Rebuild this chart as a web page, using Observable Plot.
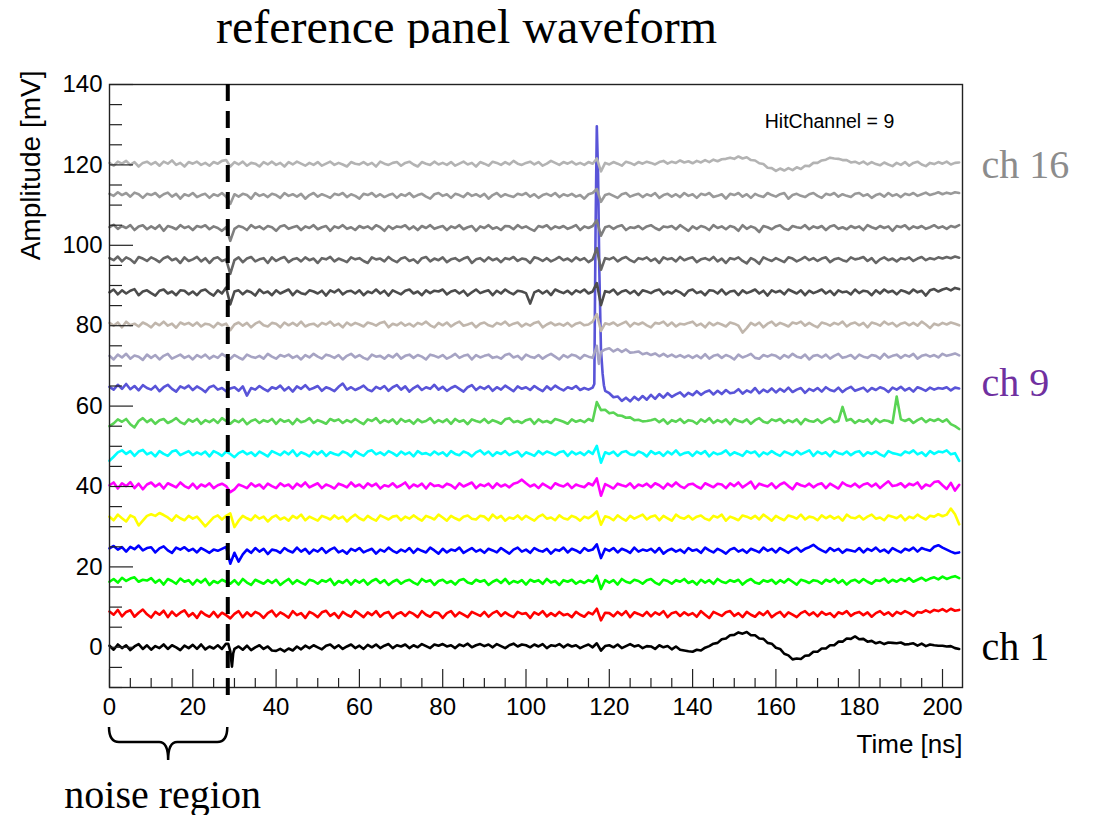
<!DOCTYPE html>
<html><head><meta charset="utf-8">
<script src="https://cdn.jsdelivr.net/npm/d3@7"></script>
<script src="https://cdn.jsdelivr.net/npm/@observablehq/plot@0.6"></script>
<style>
body{margin:0;background:#fff;width:1097px;height:815px;overflow:hidden;position:relative;}
#title{position:absolute;top:0;left:0;font-family:"Liberation Serif",serif;font-size:48px;line-height:54px;width:933px;text-align:center;white-space:nowrap;color:#000;}
#chart{position:absolute;top:48px;left:0;}
#chart svg{display:block;}
</style></head><body>
<div id="title">reference panel waveform</div>
<div id="chart"></div>
<script>
// sample times (ns), 1 ns apart
const times = d3.range(0, 205, 1);
const channels = d3.range(1, 17);
const baselines = [0, 8, 16, 24, 32, 40, 48, 56, 64, 72, 80, 88, 96, 104, 112, 120];
const colors = ["#000000", "#ff0000", "#00ff00", "#0000ff", "#ffff00", "#ff00ff", "#00ffff", "#59d454",
                "#5954d8", "#a6a3c3", "#c0b6ac", "#4c4c4c", "#666666", "#7f7f7f", "#999999", "#b3b3b3"];
const xTicks = [0, 20, 40, 60, 80, 100, 120, 140, 160, 180, 200];
const yTicks = [0, 20, 40, 60, 80, 100, 120, 140];
const noiseEnd = 28.4;
const hitLabel = "HitChannel = 9";

// deviation from each channel's baseline, in units of 0.1 mV; rows of 10 samples: t=0-9, 10-19, ..., 190-199, then 200-204
const ch1 = [
 4,-6,7,-2,5,-7,2,8,-4,5, -6,3,-2,7,-4,5,0,-7,4,-2, 6,-4,7,-5,2,-3,5,-4,9,-10, -4,2,-6,4,-7,0,5,-4,2,-8,
 -9,-4,-10,-3,-8,2,-5,4,-2,5, 0,-5,4,7,-2,5,-4,2,7,-2, 4,-4,6,0,7,-2,4,8,-2,5, 2,7,-2,5,0,8,3,-2,7,4,
 8,2,5,-2,7,3,9,0,5,8, 3,7,0,8,3,-2,5,9,2,7, 5,0,7,2,8,-2,5,3,8,0, 7,2,5,-2,3,7,0,10,-8,3,
 5,0,7,-2,3,8,2,5,-2,3, 2,-4,5,0,3,-5,2,-6,-8,-10, -11,-6,-8,-1,3,9,11,20,22,30, 31,37,34,38,30,30,22,21,11,9,
 -1,-4,-16,-20,-30,-28,-29,-21,-20,-11, -11,-3,-3,5,5,14,14,22,21,27, 20,21,14,16,10,13,8,12,11,10, 12,7,8,10,4,9,3,7,5,4,
 4,2,3,-2,-4];
const ch2 = [
 9,1,13,-3,8,12,-4,6,14,2, -6,8,1,11,-5,9,-2,6,12,-3, 5,-7,9,1,-4,8,-5,6,0,-8, 3,10,-5,7,-2,8,3,-7,5,11,
 -3,7,1,-6,10,0,5,-7,8,3, -5,7,11,-2,5,-7,8,1,-4,10, 3,-5,7,0,10,-4,5,8,-7,3, 7,-2,8,3,-5,10,1,-4,7,5,
 -7,5,10,-3,7,1,-5,8,3,-2, 8,-4,5,10,-2,7,0,-5,8,3, 5,-7,7,1,10,-3,5,-2,8,0, 3,-5,8,1,-4,7,2,16,-13,6,
 5,-3,8,0,10,-5,7,3,-2,8, -3,7,1,10,-5,5,8,-2,7,0, 5,-4,10,1,-7,8,3,-2,7,10, -2,5,-5,8,1,-4,7,0,10,-5,
 3,8,-4,7,1,-5,5,10,0,7, -3,8,1,5,-5,7,3,10,-2,5, 8,0,7,-4,5,10,1,7,-2,8, 3,10,5,-2,8,6,12,7,13,10,
 15,9,16,11,13];
const ch3 = [
 3,10,1,13,5,11,14,3,8,6, 12,1,8,-4,10,5,-2,11,3,7, -4,8,1,10,-5,5,0,8,3,-2, 7,-4,10,1,-5,8,3,-2,7,0,
 8,-5,3,10,-2,7,1,-4,8,5, -2,7,3,10,-5,5,0,8,-4,7, 1,8,-4,5,10,0,7,-5,3,8, -2,5,8,1,-4,10,3,7,-5,5,
 8,0,5,-4,7,10,1,-2,8,3, 7,-5,3,8,0,10,-2,5,1,7, -4,8,3,7,-2,10,1,5,-5,7, 3,8,-2,5,0,7,3,18,-15,7,
 1,7,-4,10,3,0,8,5,-2,7, 10,1,-4,8,5,-2,7,3,10,0, 5,-4,8,1,7,-2,10,3,0,7, 3,8,-4,5,10,1,-2,7,3,8,
 -2,7,1,10,3,-4,8,5,0,7, 5,-2,8,3,10,0,7,-4,5,8, 1,10,3,-2,7,5,11,1,8,3, 10,5,12,3,8,13,6,11,14,9,
 16,10,14,17,12];
const ch4 = [
 6,12,3,9,-2,10,4,13,1,7, 9,-4,6,11,1,-5,8,3,9,0, 5,-4,7,1,-5,3,0,5,10,-32, -5,-27,-9,3,-5,7,-2,5,-8,3,
 1,-5,7,0,-4,8,-2,5,-7,3, -2,7,-5,3,8,-4,1,-7,5,0, 7,-4,1,5,-7,3,-2,8,0,-5, 3,-2,7,-5,5,0,-4,8,1,-7,
 5,-4,3,0,8,-5,1,7,-2,3, -5,5,1,-4,7,0,-7,3,8,-2, 3,-5,7,1,-2,5,-7,3,0,8, -4,5,1,-5,7,0,3,16,-18,5,
 0,7,-4,5,1,-5,8,-2,3,0, 5,-4,7,-7,1,5,-2,3,-5,7, 0,3,-5,8,1,-4,5,0,-7,3, 7,-2,3,-5,5,1,-4,8,0,5,
 -4,7,1,-5,3,8,-2,5,9,15, 7,1,-4,7,0,5,-5,3,1,-2, 7,-4,5,0,8,-2,3,-5,7,1, -4,5,1,8,-2,7,3,0,10,14,
 8,3,-2,-6,-4];
const ch5 = [
 5,-4,10,1,-7,8,3,-17,-5,7, 11,7,14,9,3,-5,8,1,-4,7, 0,5,-7,-19,-8,3,8,-2,7,13, -21,-5,7,1,-4,8,0,5,-7,3,
 8,-2,3,-5,7,1,10,-4,5,0, -5,7,3,-2,8,0,5,-7,3,10, 1,-4,7,0,-5,8,3,-2,5,7, -4,5,0,8,1,-5,7,3,-2,10,
 3,-5,7,1,-4,5,8,0,-2,7, 5,-4,10,1,7,-5,3,0,8,-2, 7,1,-5,5,10,0,3,-4,8,1, -2,7,3,-5,5,1,8,18,-15,6,
 3,-4,8,1,-5,7,0,5,10,-2, 5,8,-4,7,1,-5,10,3,0,7, -2,5,8,0,-4,7,3,10,-5,5, 1,-4,8,5,0,7,-2,10,3,-5,
 7,1,-4,8,5,0,10,-2,5,3, -4,8,1,7,0,5,-5,10,3,1, 7,-2,5,10,0,3,-4,8,5,1, 8,-4,5,1,10,3,-2,7,5,11,
 6,10,25,11,-14];
const ch6 = [
 3,10,-5,8,1,11,-4,7,-7,5, 10,0,7,-5,8,3,-2,10,1,-4, 7,-5,5,0,8,-4,3,7,1,-14, -7,5,1,-4,8,0,5,-5,7,1,
 -4,8,1,5,-5,7,0,10,-2,3, 8,-4,5,1,-5,7,3,-2,10,0, 5,-4,8,1,7,-5,3,0,8,-2, 3,10,-4,5,0,7,-5,8,1,3,
 -2,7,3,-5,8,0,5,10,-4,5, 1,7,-4,8,0,5,-2,7,10,17, 8,0,5,-4,7,1,-5,8,3,0, 7,-4,5,1,-2,8,3,20,-23,6,
 1,-5,7,3,0,8,-4,5,1,7, -2,8,3,-5,7,0,10,1,-4,5, 7,0,-5,8,3,-2,7,5,-4,8, 1,10,-2,5,12,-5,7,3,0,8,
 -4,5,10,1,-7,8,3,0,7,-2, 5,8,-4,7,1,-5,10,3,0,7, -2,5,8,0,7,-4,5,13,1,3, 8,-2,7,3,10,-5,5,1,11,13,
 3,-6,9,-10,4];
const ch7 = [
 -16,-6,5,10,1,8,-4,7,11,0, 5,-5,8,1,-4,7,10,-2,3,8, -2,5,0,7,-5,8,3,-4,7,1, -7,3,8,0,5,-4,7,1,-5,8,
 3,-2,7,0,10,-4,5,1,-5,7, 0,8,-4,5,1,-2,7,3,-5,8, 1,-4,7,10,0,5,-2,8,3,-4, 7,0,5,-5,8,1,3,-2,7,0,
 5,-4,8,1,-2,7,3,-5,5,10, 0,7,-4,5,1,8,-2,3,7,-5, 5,1,-4,8,0,7,3,-2,5,8, -4,7,0,5,-2,8,1,21,-21,5,
 1,7,-4,5,8,0,-2,7,3,-5, 8,1,5,-4,7,0,10,-2,3,5, -4,7,1,8,-5,5,0,3,10,-2, 5,1,-4,8,3,7,-5,5,0,8,
 1,-4,7,3,-2,8,0,5,10,-4, 7,1,5,-5,8,3,0,7,-2,5, 8,-4,5,1,7,0,-5,8,3,1, -2,7,3,10,0,5,-4,8,1,7,
 5,10,0,3,-16];
const ch8 = [
 -10,-3,7,1,8,-5,-13,3,10,0, 7,-4,5,8,-2,3,10,0,-5,7, 1,8,-4,5,0,7,-2,10,3,-4, 5,0,8,-5,3,7,-2,5,1,8,
 -4,7,1,5,-5,8,0,3,10,-2, 5,1,-4,8,3,7,-2,5,0,8, 1,-5,7,3,10,-2,5,0,7,-4, 8,1,5,-4,7,0,3,10,-2,5,
 0,7,-4,8,1,5,-5,7,3,0, 8,-2,5,1,-4,7,10,0,3,-2, 5,8,-4,7,0,3,-2,8,5,1, -4,7,1,5,0,8,3,50,30,31,
 22,24,17,16,11,12,5,6,2,3, 5,8,0,7,-4,5,1,8,-2,5, 3,-4,7,1,10,-2,5,0,7,-5, 8,3,0,7,-4,5,10,1,-2,7,
 3,8,-2,5,0,7,-5,8,3,1, 7,-2,5,10,0,3,38,4,8,-2, 5,1,7,-4,8,0,5,3,-2,64, 7,3,8,-2,5,10,0,7,3,8,
 1,7,-5,-10,-17];
const ch9 = [
 8,1,13,3,15,2,10,-1,12,5, 1,10,-3,7,13,3,-4,9,4,11, 0,9,3,-5,7,11,1,5,-3,4, 7,-2,9,-14,5,1,10,3,-3,7,
 3,11,-1,7,-4,9,3,12,1,5, 10,-2,7,3,-3,8,16,1,7,0, 5,11,1,-3,8,3,10,-2,7,12, 1,9,-4,5,11,0,7,3,13,1,
 8,-2,5,10,3,-4,7,12,0,8, 3,10,-2,7,1,11,4,-3,9,3, 7,0,10,3,-3,9,1,11,4,-1, 7,3,10,0,5,1,6,656,100,-2,
 -8,-18,-16,-27,-19,-28,-17,-25,-15,-24, -12,-22,-10,-19,-8,-17,-11,-6,-16,-7, -13,-3,-12,-5,-1,-11,-2,-10,0,-8, -6,2,-9,-1,-6,5,-8,1,-5,4,
 -6,3,-4,6,-5,1,5,-7,3,-2, 5,-4,7,0,-3,6,-5,3,8,-2, 2,6,-4,5,0,7,3,-5,6,1, 8,-1,5,-4,7,3,-2,6,1,5,
 3,7,-1,6,4];
const ch10 = [
 5,-4,8,1,10,-2,6,3,-5,8, 0,7,-4,5,10,-2,3,8,0,5, -4,7,1,8,-2,5,0,10,3,-2, 7,1,-4,8,3,0,5,-2,10,3,
 -2,7,3,8,0,5,-4,7,1,10, 3,-2,8,5,0,7,-4,5,10,1, 7,0,-4,8,3,5,-2,7,1,10, -2,5,8,0,7,3,-4,8,5,1,
 7,-2,3,10,0,5,8,-4,7,1, 5,8,0,3,-2,7,10,1,5,-4, 8,3,0,7,-2,5,10,3,-4,7, 1,8,5,-2,7,3,0,30,15,21,
 24,16,22,15,21,13,14,16,9,12, 7,11,4,10,3,8,2,7,1,6, 0,6,-1,9,-2,5,8,0,7,3, -4,8,1,5,10,0,-2,7,3,8,
 5,-2,7,1,10,3,0,8,-4,5, 7,1,8,-2,5,10,0,3,7,-2, 8,3,0,7,5,-2,10,1,5,8, 0,7,3,10,-2,5,8,3,7,1,
 10,5,8,11,6];
const ch11 = [
 7,0,8,-4,10,1,5,-2,8,3, -4,7,1,10,0,5,-5,8,3,7, 0,8,-2,5,3,-4,7,1,5,-11, 3,8,0,7,-4,5,10,1,-2,7,
 5,-4,8,1,7,0,10,-2,3,5, -2,7,3,10,0,5,-4,8,1,7, 3,-2,8,5,0,7,10,-4,5,1, 8,0,5,-2,7,3,10,1,-4,7,
 1,8,-2,5,10,0,3,7,-4,5, 8,1,-2,7,3,10,0,5,8,-2, 5,0,7,10,-4,3,8,1,5,0, 7,-2,5,8,1,3,10,29,-13,6,
 3,8,0,5,10,-2,7,3,8,1, -4,7,5,10,0,8,-2,5,3,7, 10,0,5,-4,8,1,7,3,-2,8, 5,0,-17,-6,7,1,8,-4,5,10,
 0,7,3,-2,8,5,10,0,7,1, -4,8,5,0,7,3,10,-2,5,8, 1,7,-4,8,5,0,10,3,7,-2, 5,8,1,7,0,10,3,-6,5,1,
 7,3,8,5,1];
const ch12 = [
 3,10,-2,8,0,7,11,-4,5,8, 1,-5,7,10,0,5,-4,8,7,-2, 5,-4,7,10,1,-5,8,0,15,-27, 5,8,-2,7,3,-5,10,1,5,-4,
 8,0,5,10,-4,7,1,-2,8,5, 0,7,-5,8,3,10,-2,5,7,0, 8,-4,5,1,10,0,7,-5,8,3, -2,7,10,0,5,-4,8,1,7,5,
 10,-2,5,8,0,7,-5,3,10,1, 5,8,-4,7,0,10,3,-2,7,5, 1,-25,3,8,0,7,-4,10,5,1, 7,-2,8,3,10,0,5,26,-29,6,
 3,10,-2,5,8,0,7,-4,8,5, 1,7,10,-2,5,0,8,3,-5,7, 10,1,5,-4,8,7,0,10,-2,5, 7,-4,8,1,5,10,0,7,-5,8,
 3,7,-2,10,5,0,8,-4,7,1, 5,10,0,7,-4,8,3,5,-2,10, 1,7,5,-4,8,0,10,3,7,-2, 8,5,0,10,3,7,-5,8,11,5,
 10,13,8,14,11];
const ch13 = [
 8,3,12,0,10,5,-4,11,7,1, 10,5,-2,8,12,3,7,-4,10,1, 5,11,0,8,-4,7,10,1,5,-31, 3,10,-2,7,11,0,5,8,-4,10,
 1,7,11,-2,5,8,0,10,3,7, -4,8,5,11,0,7,3,-2,10,5, 8,1,-4,10,5,7,0,11,3,-2, 7,10,1,5,-4,8,11,0,7,3,
 10,-2,5,8,1,7,11,-4,5,8, 0,10,3,7,-2,8,5,11,1,7, 5,-4,10,7,1,8,0,5,11,3, 7,0,10,3,8,-2,5,33,-21,8,
 5,10,0,7,11,3,-2,8,5,10, 1,7,-4,10,5,8,0,11,3,7, 10,-2,5,8,3,11,0,7,-4,8, 5,10,1,-5,8,3,-6,10,5,1,
 8,3,-2,10,7,0,5,11,3,8, 1,7,10,-2,5,8,3,0,10,5, 7,11,1,8,-4,5,10,3,7,0, 8,5,10,1,7,11,3,8,5,10,
 7,11,8,12,9];
const ch14 = [
 5,11,1,8,3,10,-2,7,10,0, 7,1,10,-4,8,5,0,10,3,7, -2,8,5,10,0,7,3,-4,5,-29, 1,8,5,-2,10,3,7,0,8,5,
 -4,7,10,1,5,8,-2,7,3,10, 0,5,8,-4,7,3,10,1,5,-2, 8,3,7,0,10,5,-4,8,1,7, 5,10,0,7,-2,8,3,10,1,5,
 8,-2,7,3,10,0,5,8,-4,7, 3,10,1,5,-2,8,7,0,10,3, 7,1,-4,8,5,10,0,7,3,8, 1,5,10,-2,7,3,8,22,-16,5,
 8,1,7,10,-2,5,3,8,0,7, 10,3,-2,7,5,8,0,10,3,-4, 7,1,8,5,-2,10,3,7,0,8, 5,-4,10,1,7,3,-7,8,5,0,
 7,10,1,-2,8,5,3,10,0,7, 3,8,-2,7,10,1,5,0,8,3, 7,-2,10,5,1,8,3,7,-4,8, 5,10,0,7,3,8,1,5,10,3,
 7,1,8,5,10];
const ch15 = [
 8,3,12,5,10,1,11,7,-2,8, 5,10,0,7,11,1,8,-4,7,3, 10,0,5,8,-2,7,3,10,1,-17, 7,1,8,5,-4,10,3,7,0,8,
 5,-2,10,3,7,1,8,-4,5,10, 1,7,3,-2,8,5,10,0,7,3, -4,8,5,10,1,7,0,5,8,-2, 7,3,10,0,5,8,1,-4,7,10,
 3,7,-2,8,5,0,10,3,7,1, 8,-4,5,10,1,7,3,0,8,5, 10,1,7,-2,5,8,3,10,0,7, 3,8,1,5,-4,7,10,20,-12,5,
 8,3,-2,7,10,1,5,8,0,7, 3,10,-2,5,8,1,7,0,10,3, 7,-2,8,5,10,0,3,7,-4,8, 5,10,1,7,-2,8,3,0,10,5,
 1,7,10,-4,5,8,3,0,7,10, 3,-2,8,5,10,1,7,3,0,8, 10,3,7,-2,5,8,1,10,3,7, 0,8,5,10,3,7,11,5,8,12,
 7,11,8,12,10];
const ch16 = [
 5,-2,8,3,10,0,7,-4,5,8, 1,7,-2,8,3,11,0,5,-4,7, 3,8,0,5,-2,7,3,10,12,-4, 7,1,8,-2,5,3,-4,7,1,8,
 0,5,-4,7,1,8,3,-2,5,0, 7,-2,3,8,0,5,1,-4,7,3, 1,7,0,5,-4,8,3,0,5,7, -2,5,8,1,-4,7,3,0,8,1,
 5,0,7,-2,3,8,1,5,-4,7, 3,-2,8,5,0,7,1,10,3,0, 5,8,1,7,-2,3,10,5,0,7, 3,8,1,5,0,7,3,16,-16,5,
 1,7,3,-2,8,5,0,7,3,8, 5,1,7,10,3,8,5,11,6,9, 4,10,6,12,7,13,9,14,15,18, 15,21,16,19,12,11,4,2,-7,-8,
 -15,-9,-14,-8,-13,-6,-10,-2,-3,5, 5,11,13,18,16,15,12,12,6,8, 3,8,1,7,2,-1,6,1,-3,5, 0,7,-2,5,8,1,-3,5,2,7,
 3,8,1,5,6];

// finer points read between samples: [time ns, deviation in 0.1 mV]
const ch1Fine = [[28.5, 9], [29.4, -48], [29.7, -15]];
const ch9Fine = [[116.4, 15], [116.7, 400], [117.3, 540], [117.6, 300], [118.4, 40], [118.7, 12]];
const ch10Fine = [[117.5, -15]];
const noFine = [];

const chLabels = [
  {ch: 16, text: "ch 16", color: "#8c8c8c", dy: 0},
  {ch: 9, text: "ch 9", color: "#7030a0", dy: -7},
  {ch: 1, text: "ch 1", color: "#000000", dy: 0}
];

const grids = [ch1, ch2, ch3, ch4, ch5, ch6, ch7, ch8, ch9, ch10, ch11, ch12, ch13, ch14, ch15, ch16];
const fines = [ch1Fine, noFine, noFine, noFine, noFine, noFine, noFine, noFine,
               ch9Fine, ch10Fine, noFine, noFine, noFine, noFine, noFine, noFine];

const rows = [];
grids.forEach((g, i) => {
  if (g.length !== times.length) throw new Error(`ch${i + 1} has ${g.length} values, expected ${times.length}`);
  const pts = g.map((v, j) => ({t: times[j], v})).concat(fines[i].map(([t, v]) => ({t, v})));
  pts.sort((a, b) => a.t - b.t);
  pts.forEach(p => rows.push({ch: channels[i], t: p.t, mv: baselines[i] + p.v / 10}));
});

const W = 1097, H = 767, mt = 36, mb = 128, ml = 109, mr = 135;
const plotW = W - ml - mr, plotH = H - mt - mb;
const xMax = 204.8;
const xMinor = d3.range(0, 205, 5).filter(d => d % 20 !== 0);
const yMinor = d3.range(-10, 141, 5).filter(d => d % 20 !== 0);

function brace(index, scales, values, dimensions) {
  const x0 = scales.x(0), x1 = scales.x(noiseEnd), xm = (x0 + x1) / 2;
  const yb = dimensions.height - dimensions.marginBottom;
  const top = yb + 40, bar = yb + 55, tip = yb + 73;
  const d = `M${x0},${top} Q${x0},${bar} ${x0 + 10},${bar} L${xm - 9},${bar} Q${xm},${bar} ${xm},${tip} ` +
            `Q${xm},${bar} ${xm + 9},${bar} L${x1 - 10},${bar} Q${x1},${bar} ${x1},${top}`;
  return d3.create("svg:path")
    .attr("d", d).attr("fill", "none").attr("stroke", "#000").attr("stroke-width", 2.5).node();
}

const chart = Plot.plot({
  width: W, height: H,
  marginTop: mt, marginBottom: mb, marginLeft: ml, marginRight: mr,
  style: {fontFamily: "'Liberation Sans', Arial, sans-serif", color: "#000", background: "#fff"},
  x: {domain: [0, xMax]},
  y: {domain: [-10, 140]},
  color: {domain: channels, range: colors},
  marks: [
    Plot.line(rows, {x: "t", y: "mv", z: "ch", stroke: "ch", strokeWidth: 2.6, strokeLinejoin: "round"}),
    Plot.frame({stroke: "#222", strokeWidth: 1.4}),
    Plot.tickX(xTicks, {x: d => d, insetTop: plotH - 18, stroke: "#222", strokeWidth: 1.2}),
    Plot.tickX(xMinor, {x: d => d, insetTop: plotH - 9, stroke: "#222", strokeWidth: 1.2}),
    Plot.tickY(yTicks, {y: d => d, insetRight: plotW - 24, stroke: "#222", strokeWidth: 1.2}),
    Plot.tickY(yMinor, {y: d => d, insetRight: plotW - 13, stroke: "#222", strokeWidth: 1.2}),
    Plot.axisX({ticks: xTicks, tickSize: 0, tickPadding: 10, fontSize: 24, label: null}),
    Plot.axisY({ticks: yTicks, tickSize: 0, tickPadding: 7, fontSize: 24, label: null}),
    Plot.ruleX([noiseEnd], {y1: 140, y2: -12.8, stroke: "#000", strokeWidth: 4, strokeDasharray: "17,10"}),
    brace,
    Plot.text(["Time [ns]"], {frameAnchor: "bottom-right", textAnchor: "end", lineAnchor: "bottom", dy: 65, fontSize: 26}),
    Plot.text(["Amplitude [mV]"], {frameAnchor: "top-left", dx: -78, dy: -14, rotate: -90, textAnchor: "end", lineAnchor: "middle", fontSize: 28}),
    Plot.text([hitLabel], {frameAnchor: "top-right", dx: -133, dy: 43, textAnchor: "middle", lineAnchor: "bottom", fontSize: 19.5}),
    Plot.text(["noise region"], {x: [noiseEnd / 2], frameAnchor: "bottom", dx: -6, dy: 120, textAnchor: "middle", lineAnchor: "bottom", fontSize: 40, fontFamily: "'Liberation Serif', serif"}),
    ...chLabels.map(l => Plot.text([l], {x: () => xMax, y: d => baselines[d.ch - 1], text: "text", dx: 19, dy: l.dy,
      textAnchor: "start", lineAnchor: "middle", fill: l.color, fontSize: 40, fontFamily: "'Liberation Serif', serif"}))
  ]
});
document.getElementById("chart").append(chart);
</script>
</body></html>
